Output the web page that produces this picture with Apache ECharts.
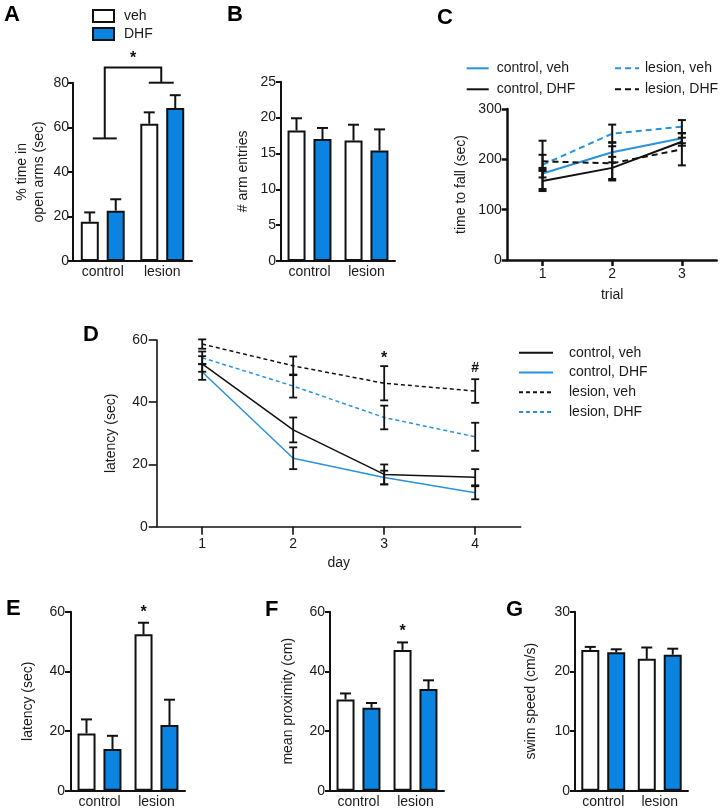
<!DOCTYPE html>
<html><head><meta charset="utf-8">
<script src="https://cdn.jsdelivr.net/npm/echarts@6/dist/echarts.min.js"></script>
<style>html,body{margin:0;padding:0;background:#fff}#c{width:724px;height:810px}</style>
</head><body><div id="c"></div>
<script>
// ---------- DATA ----------
const groups = ['control', 'lesion'];
const barNames = ['veh', 'DHF'];
// A: % time in open arms
const aVeh = [17.6, 61.6], aVehErr = [4.2, 5.1];
const aDhf = [22.6, 68.6], aDhfErr = [5.1, 5.8];
const aBracketY = [55, 86.8, 80];   // left leg bottom, top bar, right leg bottom
const aStarY = 92.4;
// B: # arm entries
const bVeh = [18.2, 16.8], bVehErr = [1.7, 2.2];
const bDhf = [17.0, 15.4], bDhfErr = [1.55, 2.95];
// C: time to fall
const trials = ['1', '2', '3'];
const cCtrlVeh = [172, 214, 242], cCtrlVehErr = [8, 20, 10];
const cCtrlDhf = [157, 183, 235], cCtrlDhfErr = [20, 22, 8];
const cLesVeh = [189, 251, 265], cLesVehErr = [48, 18, 13];
const cLesDhf = [196, 192, 220], cLesDhfErr = [13, 34, 32];
// D: latency over days
const days = ['1', '2', '3', '4'];
const dCtrlVeh = [52.3, 31.1, 16.8, 15.9], dCtrlVehErr = [2.5, 4.0, 3.2, 2.6];
const dCtrlDhf = [49.7, 22.0, 15.8, 10.9], dCtrlDhfErr = [2.5, 3.5, 2.2, 2.1];
const dLesVeh = [58.7, 51.7, 46.1, 43.6], dLesVehErr = [1.5, 3.0, 5.5, 3.8];
const dLesDhf = [54.3, 45.2, 35.1, 28.9], dLesDhfErr = [2.0, 3.7, 3.8, 4.5];
const dMarkIdx = [2, 3], dMarkY = [55.2, 51], dMarkText = ['*', '#'];
// E: latency probe
const eVeh = [19.2, 52.4], eVehErr = [4.7, 3.9];
const eDhf = [14.0, 22.0], eDhfErr = [4.4, 8.5];
const eStarY = 60.9;
// F: mean proximity
const fVeh = [30.6, 47.2], fVehErr = [2.0, 2.5];
const fDhf = [27.8, 34.1], fDhfErr = [1.6, 2.9];
const fStarY = 54.5;
// G: swim speed
const gVeh = [23.6, 22.1], gVehErr = [0.5, 1.9];
const gDhf = [23.2, 22.8], gDhfErr = [0.5, 1.0];

// ---------- STYLE ----------
const FONT = '"Liberation Sans", Arial, Helvetica, sans-serif';
const INK = '#111';
const TXT = '#1a1a1a';
const BLUE = '#0a84e0';
const LBLUE = '#2a92da';

const grids = [
  {left: 73, top: 82.7, width: 119, height: 178.3},   // A
  {left: 281, top: 81.7, width: 114, height: 179.3},  // B
  {left: 507.7, top: 109, width: 209, height: 151},   // C
  {left: 156.7, top: 340, width: 364, height: 186.7}, // D
  {left: 71, top: 611.7, width: 114, height: 179},    // E
  {left: 330, top: 611.7, width: 114, height: 179},   // F
  {left: 575, top: 611.7, width: 113, height: 179}    // G
].map(g => Object.assign({outerBoundsMode: 'none', containLabel: false}, g));

function catAxis(gi, cats, o) {
  o = o || {};
  return {
    type: 'category', gridIndex: gi, data: cats, boundaryGap: true,
    axisLine: {show: true, onZero: false, lineStyle: {color: INK, width: o.lw || 2}},
    axisTick: o.ticks ? {show: true, alignWithLabel: true, length: o.tickLen || 6, lineStyle: {color: INK, width: o.lw || 2}} : {show: false},
    axisLabel: {margin: o.margin || 4, fontSize: 14, color: TXT, fontFamily: FONT, interval: 0},
    splitLine: {show: false},
    name: o.name || '', nameLocation: 'middle', nameGap: o.nameGap || 28,
    nameTextStyle: {fontSize: 14, color: TXT, fontFamily: FONT}, nameMoveOverlap: false
  };
}
function valAxis(gi, max, interval, name, nameGap, o) {
  o = o || {};
  return {
    type: 'value', gridIndex: gi, min: 0, max: max, interval: interval,
    axisLine: {show: true, lineStyle: {color: INK, width: o.lw || 2}},
    axisTick: {show: true, length: o.tickLen || 5, lineStyle: {color: INK, width: o.lw || 2}},
    axisLabel: {margin: o.margin || 5, fontSize: 14, color: TXT, fontFamily: FONT, showMinLabel: true, showMaxLabel: true},
    splitLine: {show: false},
    name: name, nameLocation: 'middle', nameGap: nameGap, nameRotate: 90,
    nameTextStyle: {fontSize: 14, color: TXT, fontFamily: FONT, lineHeight: 17}, nameMoveOverlap: false
  };
}

const xAxes = [
  catAxis(0, groups), catAxis(1, groups),
  catAxis(2, trials, {ticks: true, tickLen: 6, margin: 7, lw: 2.5, name: 'trial', nameGap: 28}),
  catAxis(3, days, {ticks: true, tickLen: 8, margin: 10, lw: 1.6, name: 'day', nameGap: 29}),
  catAxis(4, groups), catAxis(5, groups), catAxis(6, groups)
];
const yAxes = [
  valAxis(0, 80, 20, '% time in\nopen arms (sec)', 25, {margin: 4}),
  valAxis(1, 25, 5, '# arm entries', 29),
  valAxis(2, 300, 100, 'time to fall (sec)', 38, {lw: 2.5, tickLen: 6, margin: 6}),
  valAxis(3, 60, 20, 'latency (sec)', 37, {lw: 1.6, tickLen: 8, margin: 9}),
  valAxis(4, 60, 20, 'latency (sec)', 34, {tickLen: 6, margin: 6}),
  valAxis(5, 60, 20, 'mean proximity (cm)', 33),
  valAxis(6, 30, 10, 'swim speed (cm/s)', 35)
];

const series = [];
const BAR_HALF = 13;

function barSeries(gi, name, vals, fill) {
  return {
    type: 'bar', name: name, xAxisIndex: gi, yAxisIndex: gi, data: vals,
    barWidth: 18, barGap: '44%', silent: true, animation: false,
    itemStyle: {color: fill, borderColor: INK, borderWidth: 2}
  };
}
function whisker(gi, vals, errs, offset) {
  return {
    type: 'custom', xAxisIndex: gi, yAxisIndex: gi, silent: true, animation: false, z: 5,
    encode: {x: 0, y: 1},
    data: vals.map((v, i) => [i, v, errs[i]]),
    renderItem: function (params, api) {
      const p0 = api.coord([api.value(0), api.value(1)]);
      const p1 = api.coord([api.value(0), api.value(1) + api.value(2)]);
      const x = p0[0] + offset;
      const st = {stroke: INK, lineWidth: 2};
      return {type: 'group', children: [
        {type: 'line', shape: {x1: x, y1: p0[1], x2: x, y2: p1[1]}, style: st},
        {type: 'line', shape: {x1: x - 5.5, y1: p1[1], x2: x + 5.5, y2: p1[1]}, style: st}
      ]};
    }
  };
}
function starText(gi, catIdx, yVal, offset, txt, size) {
  return {
    type: 'custom', xAxisIndex: gi, yAxisIndex: gi, silent: true, animation: false, z: 6,
    encode: {x: 0, y: 1},
    data: [[catIdx, yVal]],
    renderItem: function (params, api) {
      const p = api.coord([api.value(0), api.value(1)]);
      return {type: 'text', x: p[0] + offset, y: p[1] + (txt === '*' ? 3.5 : 0),
        style: {text: txt, font: 'bold ' + size + 'px ' + FONT, fill: INK, align: 'center', verticalAlign: 'middle'}};
    }
  };
}
function barPanel(gi, veh, vehErr, dhf, dhfErr) {
  series.push(barSeries(gi, barNames[0], veh, '#ffffff'));
  series.push(barSeries(gi, barNames[1], dhf, BLUE));
  series.push(whisker(gi, veh, vehErr, -BAR_HALF));
  series.push(whisker(gi, dhf, dhfErr, BAR_HALF));
}
barPanel(0, aVeh, aVehErr, aDhf, aDhfErr);
barPanel(1, bVeh, bVehErr, bDhf, bDhfErr);
barPanel(4, eVeh, eVehErr, eDhf, eDhfErr);
barPanel(5, fVeh, fVehErr, fDhf, fDhfErr);
barPanel(6, gVeh, gVehErr, gDhf, gDhfErr);

// A bracket
series.push({
  type: 'custom', xAxisIndex: 0, yAxisIndex: 0, silent: true, animation: false, z: 6,
  encode: {x: 0, y: 1},
  data: [[0, aBracketY[0]]],
  renderItem: function (params, api) {
    const l0 = api.coord([0, aBracketY[0]]);
    const lt = api.coord([0, aBracketY[1]]);
    const rt = api.coord([1, aBracketY[1]]);
    const r0 = api.coord([1, aBracketY[2]]);
    const s = api.coord([0, aStarY]);
    const st = {stroke: INK, lineWidth: 2, fill: null};
    const lx = l0[0] + 2, rx = r0[0] - 1;
    return {type: 'group', children: [
      {type: 'polyline', shape: {points: [[lx, l0[1]], [lx, lt[1]], [rx, lt[1]], [rx, r0[1]]]}, style: st},
      {type: 'line', shape: {x1: lx - 12, y1: l0[1], x2: lx + 12, y2: l0[1]}, style: st},
      {type: 'line', shape: {x1: rx - 12.5, y1: r0[1], x2: rx + 12.5, y2: r0[1]}, style: st},
      {type: 'text', x: (lx + rx) / 2, y: s[1] + 3.5,
        style: {text: '*', font: 'bold 16px ' + FONT, fill: INK, align: 'center', verticalAlign: 'middle'}}
    ]};
  }
});
series.push(starText(4, 1, eStarY, -BAR_HALF, '*', 16));
series.push(starText(5, 1, fStarY, -BAR_HALF, '*', 16));

// Line panels
function lineSeries(gi, name, vals, color, dashed, width, dash) {
  return {
    type: 'line', name: name, xAxisIndex: gi, yAxisIndex: gi, data: vals,
    symbol: 'none', silent: true, animation: false, z: 3,
    lineStyle: {color: color, width: width, type: dashed ? dash : 'solid'},
    itemStyle: {color: color}
  };
}
function errBars(gi, vals, errs, half, lw) {
  return {
    type: 'custom', xAxisIndex: gi, yAxisIndex: gi, silent: true, animation: false, z: 4,
    encode: {x: 0, y: 1},
    data: vals.map((v, i) => [i, v, errs[i]]),
    renderItem: function (params, api) {
      const c = api.value(0), v = api.value(1), e = api.value(2);
      const pt = api.coord([c, v + e]);
      const pb = api.coord([c, v - e]);
      const x = pt[0];
      const st = {stroke: INK, lineWidth: lw};
      return {type: 'group', children: [
        {type: 'line', shape: {x1: x, y1: pt[1], x2: x, y2: pb[1]}, style: st},
        {type: 'line', shape: {x1: x - half, y1: pt[1], x2: x + half, y2: pt[1]}, style: st},
        {type: 'line', shape: {x1: x - half, y1: pb[1], x2: x + half, y2: pb[1]}, style: st}
      ]};
    }
  };
}
const cDash = [6, 4];
series.push(lineSeries(2, 'control, veh', cCtrlVeh, LBLUE, false, 2, cDash));
series.push(lineSeries(2, 'control, DHF', cCtrlDhf, INK, false, 2, cDash));
series.push(lineSeries(2, 'lesion, veh', cLesVeh, LBLUE, true, 2, cDash));
series.push(lineSeries(2, 'lesion, DHF', cLesDhf, INK, true, 2, cDash));
[[cCtrlVeh, cCtrlVehErr], [cCtrlDhf, cCtrlDhfErr], [cLesVeh, cLesVehErr], [cLesDhf, cLesDhfErr]]
  .forEach(p => series.push(errBars(2, p[0], p[1], 4, 2)));

const dDash = [4, 3];
series.push(lineSeries(3, 'D: control, veh', dCtrlVeh, INK, false, 1.5, dDash));
series.push(lineSeries(3, 'D: control, DHF', dCtrlDhf, LBLUE, false, 1.5, dDash));
series.push(lineSeries(3, 'D: lesion, veh', dLesVeh, INK, true, 1.5, dDash));
series.push(lineSeries(3, 'D: lesion, DHF', dLesDhf, LBLUE, true, 1.5, dDash));
[[dCtrlVeh, dCtrlVehErr], [dCtrlDhf, dCtrlDhfErr], [dLesVeh, dLesVehErr], [dLesDhf, dLesDhfErr]]
  .forEach(p => series.push(errBars(3, p[0], p[1], 4, 1.8)));
dMarkIdx.forEach((ci, k) => series.push(starText(3, ci, dMarkY[k], 0, dMarkText[k], dMarkText[k] === '*' ? 16 : 14)));

const legTxt = {fontSize: 14, color: TXT, fontFamily: FONT};
const hideSym = {color: 'rgba(0,0,0,0)', borderColor: 'rgba(0,0,0,0)', borderWidth: 0, opacity: 0};
const legends = [
  {left: 92, top: 9, padding: 0, orient: 'vertical', itemWidth: 21, itemHeight: 12, itemGap: 4, icon: 'rect',
   data: barNames, selectedMode: false, textStyle: Object.assign({padding: [0, 0, 0, 5]}, legTxt)},
  {left: 465.7, top: 61.3, padding: 0, orient: 'vertical', itemWidth: 22, itemHeight: 14, itemGap: 7,
   itemStyle: hideSym,
   data: ['control, veh', 'control, DHF'], selectedMode: false, textStyle: Object.assign({padding: [0, 0, 0, 3]}, legTxt)},
  {left: 614, top: 61.3, padding: 0, orient: 'vertical', itemWidth: 24, itemHeight: 14, itemGap: 7,
   itemStyle: hideSym,
   data: ['lesion, veh', 'lesion, DHF'], selectedMode: false, textStyle: Object.assign({padding: [0, 0, 0, 1]}, legTxt)},
  {left: 518, top: 345.7, padding: 0, orient: 'vertical', itemWidth: 34, itemHeight: 14, itemGap: 5.8,
   itemStyle: hideSym,
   data: ['D: control, veh', 'D: control, DHF', 'D: lesion, veh', 'D: lesion, DHF'], selectedMode: false,
   formatter: n => n.slice(3), textStyle: Object.assign({padding: [0, 0, 0, 11]}, legTxt)}
];

const letters = [['A', 4, 15], ['B', 227, 15], ['C', 437, 17.5], ['D', 83, 335], ['E', 6, 609], ['F', 265, 610], ['G', 506, 610]];
const graphic = letters.map(l => ({
  type: 'text', left: l[1], top: l[2] - 11, silent: true,
  style: {text: l[0], font: 'bold 22px ' + FONT, fill: '#000'}
}));

const chart = echarts.init(document.getElementById('c'), null, {renderer: 'canvas'});
chart.setOption({
  backgroundColor: '#ffffff',
  animation: false,
  textStyle: {fontFamily: FONT},
  grid: grids, xAxis: xAxes, yAxis: yAxes,
  legend: legends, series: series, graphic: graphic
});
</script></body></html>
